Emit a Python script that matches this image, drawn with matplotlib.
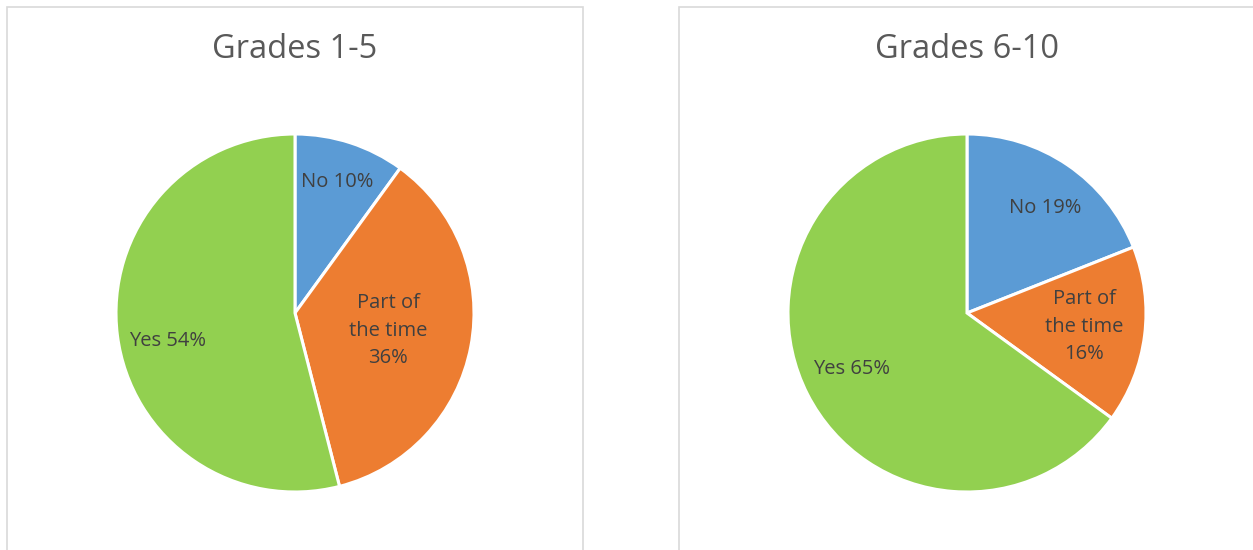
import matplotlib.pyplot as plt
import numpy as np
from matplotlib.patches import Rectangle

titles = ['Grades 1-5', 'Grades 6-10']
categories = ['No', 'Part of the time', 'Yes']
values_1_5 = [10, 36, 54]
values_6_10 = [19, 16, 65]
label_texts = [['No 10%', 'Part of\nthe time\n36%', 'Yes 54%'],
               ['No 19%', 'Part of\nthe time\n16%', 'Yes 65%']]
colors = ['#5B9BD5', '#ED7D31', '#92D050']

plt.rcParams['font.family'] = ['Open Sans', 'DejaVu Sans']

W, H = 1253, 550
fig = plt.figure(figsize=(W / 100, H / 100), dpi=100)

# panel geometry in pixels
panels = [(7, 583), (679, 1260)]
centers = [(295, 313), (967, 313)]
radius = 179
# label placement: radial fraction and angle tweak (deg) per wedge
label_dist = [[0.77, 0.53, 0.73], [0.73, 0.66, 0.72]]
label_shift = [[0, 0, 5], [-2.5, 0.4, -1]]

for k, values in enumerate([values_1_5, values_6_10]):
    x0, x1 = panels[k]
    fig.patches.append(Rectangle((x0 / W, -0.1), (x1 - x0) / W, 1.1 - 7 / H,
                                 transform=fig.transFigure, fill=False,
                                 edgecolor='#D9D9D9', linewidth=1.2))
    cx, cy = centers[k]
    ax = fig.add_axes([(cx - radius) / W, (H - cy - radius) / H, 2 * radius / W, 2 * radius / H])
    wedges, _ = ax.pie(values, colors=colors, startangle=90, counterclock=False,
                       radius=1, wedgeprops=dict(edgecolor='white', linewidth=2.2))
    ax.set_xlim(-1, 1)
    ax.set_ylim(-1, 1)
    ax.set_aspect('equal')
    ax.axis('off')
    for w, txt, d, s in zip(wedges, label_texts[k], label_dist[k], label_shift[k]):
        ang = np.deg2rad((w.theta1 + w.theta2) / 2 + s)
        ax.text(d * np.cos(ang), d * np.sin(ang), txt, ha='center', va='center',
                fontsize=14.5, color='#404040', linespacing=1.5)
    fig.text(cx / W, 1 - 49 / H, titles[k], ha='center', va='center',
             fontsize=23.5, color='#595959')

fig.savefig('out.png', dpi=100)
